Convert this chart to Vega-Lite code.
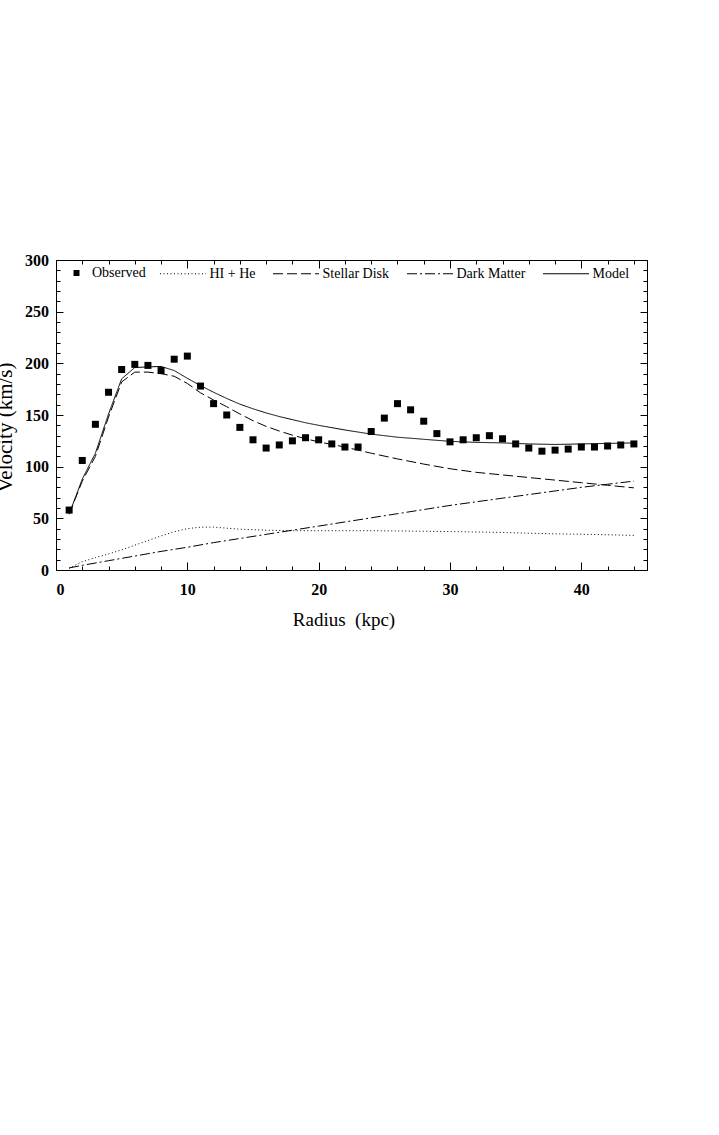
{
  "$schema": "https://vega.github.io/schema/vega-lite/v6.json",
  "autosize": "none",
  "width": 591,
  "height": 310,
  "padding": {"left": 56, "top": 260, "right": 72, "bottom": 565},
  "background": "white",
  "config": {
    "view": {"stroke": "black", "strokeWidth": 1},
    "axis": {"grid": false, "domain": false, "labelFont": "Liberation Serif", "labelFontWeight": "bold", "labelFontSize": 16, "labelColor": "black", "tickColor": "black", "tickWidth": 1, "titleFont": "Liberation Serif", "titleFontWeight": "normal", "titleColor": "black"},
    "legend": {"labelFont": "Liberation Serif", "labelFontSize": 14, "labelColor": "black", "padding": 0, "orient": "none"}
  },
  "datasets": {
    "observed": [
      {"r": 1, "v": 58, "series": "Observed"}, {"r": 2, "v": 106, "series": "Observed"}, {"r": 3, "v": 141, "series": "Observed"}, {"r": 4, "v": 172, "series": "Observed"}, {"r": 5, "v": 194, "series": "Observed"}, {"r": 6, "v": 199, "series": "Observed"}, {"r": 7, "v": 198, "series": "Observed"}, {"r": 8, "v": 193, "series": "Observed"}, {"r": 9, "v": 204, "series": "Observed"}, {"r": 10, "v": 207, "series": "Observed"},
      {"r": 11, "v": 178, "series": "Observed"}, {"r": 12, "v": 161, "series": "Observed"}, {"r": 13, "v": 150, "series": "Observed"}, {"r": 14, "v": 138, "series": "Observed"}, {"r": 15, "v": 126, "series": "Observed"}, {"r": 16, "v": 118, "series": "Observed"}, {"r": 17, "v": 121, "series": "Observed"}, {"r": 18, "v": 125, "series": "Observed"}, {"r": 19, "v": 128, "series": "Observed"}, {"r": 20, "v": 126, "series": "Observed"},
      {"r": 21, "v": 122, "series": "Observed"}, {"r": 22, "v": 119, "series": "Observed"}, {"r": 23, "v": 119, "series": "Observed"}, {"r": 24, "v": 134, "series": "Observed"}, {"r": 25, "v": 147, "series": "Observed"}, {"r": 26, "v": 161, "series": "Observed"}, {"r": 27, "v": 155, "series": "Observed"}, {"r": 28, "v": 144, "series": "Observed"}, {"r": 29, "v": 132, "series": "Observed"}, {"r": 30, "v": 124, "series": "Observed"},
      {"r": 31, "v": 126, "series": "Observed"}, {"r": 32, "v": 128, "series": "Observed"}, {"r": 33, "v": 130, "series": "Observed"}, {"r": 34, "v": 127, "series": "Observed"}, {"r": 35, "v": 122, "series": "Observed"}, {"r": 36, "v": 118, "series": "Observed"}, {"r": 37, "v": 115, "series": "Observed"}, {"r": 38, "v": 116, "series": "Observed"}, {"r": 39, "v": 117, "series": "Observed"}, {"r": 40, "v": 119, "series": "Observed"},
      {"r": 41, "v": 119, "series": "Observed"}, {"r": 42, "v": 120, "series": "Observed"}, {"r": 43, "v": 121, "series": "Observed"}, {"r": 44, "v": 122, "series": "Observed"}
    ],
    "lines": [
      {"r": 1, "v": 1.7, "series": "HI + He"}, {"r": 2, "v": 8, "series": "HI + He"}, {"r": 3, "v": 12, "series": "HI + He"}, {"r": 4, "v": 15.5, "series": "HI + He"}, {"r": 5, "v": 19.5, "series": "HI + He"}, {"r": 6, "v": 24, "series": "HI + He"}, {"r": 7, "v": 28.5, "series": "HI + He"}, {"r": 8, "v": 33, "series": "HI + He"}, {"r": 9, "v": 37, "series": "HI + He"}, {"r": 10, "v": 40, "series": "HI + He"},
      {"r": 11, "v": 41.5, "series": "HI + He"}, {"r": 12, "v": 41.5, "series": "HI + He"}, {"r": 13, "v": 40.5, "series": "HI + He"}, {"r": 14, "v": 39.5, "series": "HI + He"}, {"r": 16, "v": 38.5, "series": "HI + He"}, {"r": 18, "v": 38, "series": "HI + He"}, {"r": 20, "v": 38, "series": "HI + He"}, {"r": 22, "v": 38, "series": "HI + He"}, {"r": 24, "v": 38, "series": "HI + He"}, {"r": 26, "v": 37.8, "series": "HI + He"},
      {"r": 28, "v": 37.5, "series": "HI + He"}, {"r": 30, "v": 37.2, "series": "HI + He"}, {"r": 32, "v": 36.8, "series": "HI + He"}, {"r": 34, "v": 36.3, "series": "HI + He"}, {"r": 36, "v": 35.6, "series": "HI + He"}, {"r": 38, "v": 35, "series": "HI + He"}, {"r": 40, "v": 34.6, "series": "HI + He"}, {"r": 42, "v": 34.1, "series": "HI + He"}, {"r": 44, "v": 33.5, "series": "HI + He"},
      {"r": 1, "v": 54, "series": "Stellar Disk"}, {"r": 2, "v": 86, "series": "Stellar Disk"}, {"r": 3, "v": 110, "series": "Stellar Disk"}, {"r": 4, "v": 148, "series": "Stellar Disk"}, {"r": 5, "v": 182, "series": "Stellar Disk"}, {"r": 6, "v": 191.5, "series": "Stellar Disk"}, {"r": 7, "v": 191.5, "series": "Stellar Disk"}, {"r": 8, "v": 190, "series": "Stellar Disk"}, {"r": 9, "v": 187.5, "series": "Stellar Disk"}, {"r": 10, "v": 180.5, "series": "Stellar Disk"},
      {"r": 11, "v": 171.5, "series": "Stellar Disk"}, {"r": 12, "v": 164.5, "series": "Stellar Disk"}, {"r": 13, "v": 158, "series": "Stellar Disk"}, {"r": 14, "v": 151, "series": "Stellar Disk"}, {"r": 15, "v": 144.5, "series": "Stellar Disk"}, {"r": 16, "v": 139, "series": "Stellar Disk"}, {"r": 17, "v": 134.5, "series": "Stellar Disk"}, {"r": 18, "v": 130.5, "series": "Stellar Disk"}, {"r": 19, "v": 127, "series": "Stellar Disk"}, {"r": 20, "v": 124, "series": "Stellar Disk"},
      {"r": 22, "v": 119, "series": "Stellar Disk"}, {"r": 24, "v": 113, "series": "Stellar Disk"}, {"r": 26, "v": 107.5, "series": "Stellar Disk"}, {"r": 28, "v": 102.5, "series": "Stellar Disk"}, {"r": 30, "v": 98, "series": "Stellar Disk"}, {"r": 32, "v": 94.5, "series": "Stellar Disk"}, {"r": 34, "v": 92, "series": "Stellar Disk"}, {"r": 36, "v": 89.5, "series": "Stellar Disk"}, {"r": 38, "v": 87, "series": "Stellar Disk"}, {"r": 40, "v": 84.5, "series": "Stellar Disk"},
      {"r": 42, "v": 82, "series": "Stellar Disk"}, {"r": 44, "v": 79.5, "series": "Stellar Disk"},
      {"r": 1, "v": 2, "series": "Dark Matter"}, {"r": 2, "v": 4.5, "series": "Dark Matter"}, {"r": 4, "v": 9, "series": "Dark Matter"}, {"r": 6, "v": 13.5, "series": "Dark Matter"}, {"r": 8, "v": 18, "series": "Dark Matter"}, {"r": 10, "v": 22, "series": "Dark Matter"}, {"r": 12, "v": 26.5, "series": "Dark Matter"}, {"r": 14, "v": 30.5, "series": "Dark Matter"}, {"r": 16, "v": 34.5, "series": "Dark Matter"}, {"r": 18, "v": 38.5, "series": "Dark Matter"},
      {"r": 20, "v": 42.5, "series": "Dark Matter"}, {"r": 22, "v": 46.5, "series": "Dark Matter"}, {"r": 24, "v": 50.5, "series": "Dark Matter"}, {"r": 26, "v": 54.5, "series": "Dark Matter"}, {"r": 28, "v": 58.5, "series": "Dark Matter"}, {"r": 30, "v": 62.5, "series": "Dark Matter"}, {"r": 32, "v": 66, "series": "Dark Matter"}, {"r": 34, "v": 69.5, "series": "Dark Matter"}, {"r": 36, "v": 73, "series": "Dark Matter"}, {"r": 38, "v": 76.5, "series": "Dark Matter"},
      {"r": 40, "v": 80, "series": "Dark Matter"}, {"r": 42, "v": 83, "series": "Dark Matter"}, {"r": 44, "v": 86, "series": "Dark Matter"},
      {"r": 1, "v": 54, "series": "Model"}, {"r": 2, "v": 88, "series": "Model"}, {"r": 3, "v": 113, "series": "Model"}, {"r": 4, "v": 151, "series": "Model"}, {"r": 5, "v": 185, "series": "Model"}, {"r": 6, "v": 196, "series": "Model"}, {"r": 7, "v": 196.5, "series": "Model"}, {"r": 8, "v": 197, "series": "Model"}, {"r": 9, "v": 193, "series": "Model"}, {"r": 10, "v": 185.5, "series": "Model"},
      {"r": 11, "v": 178.5, "series": "Model"}, {"r": 12, "v": 172, "series": "Model"}, {"r": 13, "v": 166, "series": "Model"}, {"r": 14, "v": 160.5, "series": "Model"}, {"r": 15, "v": 156, "series": "Model"}, {"r": 16, "v": 152, "series": "Model"}, {"r": 17, "v": 148.5, "series": "Model"}, {"r": 18, "v": 145.5, "series": "Model"}, {"r": 19, "v": 142.5, "series": "Model"}, {"r": 20, "v": 140, "series": "Model"},
      {"r": 22, "v": 135.5, "series": "Model"}, {"r": 24, "v": 131.5, "series": "Model"}, {"r": 26, "v": 128.5, "series": "Model"}, {"r": 28, "v": 126.5, "series": "Model"}, {"r": 30, "v": 124.5, "series": "Model"}, {"r": 32, "v": 123.5, "series": "Model"}, {"r": 34, "v": 123, "series": "Model"}, {"r": 36, "v": 122, "series": "Model"}, {"r": 38, "v": 121.5, "series": "Model"}, {"r": 40, "v": 122, "series": "Model"},
      {"r": 42, "v": 122.5, "series": "Model"}, {"r": 44, "v": 123, "series": "Model"}
    ]
  },
  "resolve": {"axis": {"x": "independent", "y": "independent"}},
  "layer": [
    {
      "data": {"name": "observed"},
      "mark": {"type": "point", "shape": "square", "filled": true, "color": "black", "size": 49, "opacity": 1, "strokeWidth": 0},
      "encoding": {
        "x": {"field": "r", "type": "quantitative", "scale": {"domain": [0, 45], "nice": false, "zero": false},
          "axis": {"orient": "bottom", "values": [0, 10, 20, 30, 40], "ticks": false, "labelPadding": 11, "title": "Radius\u00a0 (kpc)", "titleFontSize": 19, "titleX": 287.5, "titleY": 55.7, "titleBaseline": "alphabetic"}},
        "y": {"field": "v", "type": "quantitative", "scale": {"domain": [0, 300], "nice": false},
          "axis": {"orient": "left", "values": [0, 50, 100, 150, 200, 250, 300], "ticks": false, "labelPadding": 7.5, "title": "Velocity (km/s)", "titleFontSize": 21, "titleAngle": 270, "titleX": -45, "titleY": 167, "titleBaseline": "alphabetic"}},
        "shape": {"field": "series", "type": "nominal", "scale": {"domain": ["Observed"], "range": ["square"]},
          "legend": {"title": null, "legendX": 13.5, "legendY": 6, "symbolSize": 36, "symbolFillColor": "black", "symbolStrokeWidth": 0, "labelOffset": 8.5}}
      }
    },
    {
      "data": {"name": "lines"},
      "transform": [{"filter": "datum.series === 'HI + He'"}],
      "mark": {"type": "line", "color": "black", "strokeWidth": 1},
      "encoding": {
        "x": {"field": "r", "type": "quantitative", "axis": {"orient": "bottom", "values": [0, 2, 4, 6, 8, 10, 12, 14, 16, 18, 20, 22, 24, 26, 28, 30, 32, 34, 36, 38, 40, 42, 44], "labels": false, "tickSize": -4, "title": null}},
        "y": {"field": "v", "type": "quantitative", "axis": {"orient": "left", "values": [0, 10, 20, 30, 40, 50, 60, 70, 80, 90, 100, 110, 120, 130, 140, 150, 160, 170, 180, 190, 200, 210, 220, 230, 240, 250, 260, 270, 280, 290, 300], "labels": false, "tickSize": -4, "title": null}},
        "strokeDash": {"field": "series", "type": "nominal", "scale": {"domain": ["HI + He", "Stellar Disk", "Dark Matter", "Model"], "range": [[1, 2.5], [10, 4], [10, 3, 2, 3], [1, 0]]},
          "legend": {"title": null, "direction": "horizontal", "legendX": 103.5, "legendY": -10, "symbolType": "stroke", "symbolSize": 2116, "symbolStrokeColor": "black", "symbolStrokeWidth": 1, "labelOffset": 3, "columnPadding": 15}}
      }
    },
    {
      "data": {"name": "lines"},
      "transform": [{"filter": "datum.series === 'Stellar Disk'"}],
      "mark": {"type": "line", "color": "black", "strokeWidth": 1},
      "encoding": {
        "x": {"field": "r", "type": "quantitative", "axis": {"orient": "bottom", "values": [0, 10, 20, 30, 40], "labels": false, "tickSize": -8, "title": null}},
        "y": {"field": "v", "type": "quantitative", "axis": {"orient": "left", "values": [0, 50, 100, 150, 200, 250, 300], "labels": false, "tickSize": -7, "title": null}},
        "strokeDash": {"field": "series", "type": "nominal",
          "legend": {"title": null, "direction": "horizontal", "legendX": 103.5, "legendY": -10, "symbolType": "stroke", "symbolSize": 2116, "symbolStrokeColor": "black", "symbolStrokeWidth": 1, "labelOffset": 3, "columnPadding": 15}}
      }
    },
    {
      "data": {"name": "lines"},
      "transform": [{"filter": "datum.series === 'Dark Matter'"}],
      "mark": {"type": "line", "color": "black", "strokeWidth": 1},
      "encoding": {
        "x": {"field": "r", "type": "quantitative", "axis": {"orient": "top", "values": [0, 10, 20, 30, 40], "labels": false, "tickSize": -8, "title": null}},
        "y": {"field": "v", "type": "quantitative", "axis": {"orient": "right", "values": [0, 50, 100, 150, 200, 250, 300], "labels": false, "tickSize": -7, "title": null}},
        "strokeDash": {"field": "series", "type": "nominal",
          "legend": {"title": null, "direction": "horizontal", "legendX": 103.5, "legendY": -10, "symbolType": "stroke", "symbolSize": 2116, "symbolStrokeColor": "black", "symbolStrokeWidth": 1, "labelOffset": 3, "columnPadding": 15}}
      }
    },
    {
      "data": {"name": "lines"},
      "transform": [{"filter": "datum.series === 'Model'"}],
      "mark": {"type": "line", "color": "black", "strokeWidth": 1},
      "encoding": {
        "x": {"field": "r", "type": "quantitative", "axis": {"orient": "top", "values": [0, 2, 4, 6, 8, 10, 12, 14, 16, 18, 20, 22, 24, 26, 28, 30, 32, 34, 36, 38, 40, 42, 44], "labels": false, "tickSize": -4, "title": null}},
        "y": {"field": "v", "type": "quantitative", "axis": {"orient": "right", "values": [0, 10, 20, 30, 40, 50, 60, 70, 80, 90, 100, 110, 120, 130, 140, 150, 160, 170, 180, 190, 200, 210, 220, 230, 240, 250, 260, 270, 280, 290, 300], "labels": false, "tickSize": -4, "title": null}},
        "strokeDash": {"field": "series", "type": "nominal",
          "legend": {"title": null, "direction": "horizontal", "legendX": 103.5, "legendY": -10, "symbolType": "stroke", "symbolSize": 2116, "symbolStrokeColor": "black", "symbolStrokeWidth": 1, "labelOffset": 3, "columnPadding": 15}}
      }
    }
  ]
}
